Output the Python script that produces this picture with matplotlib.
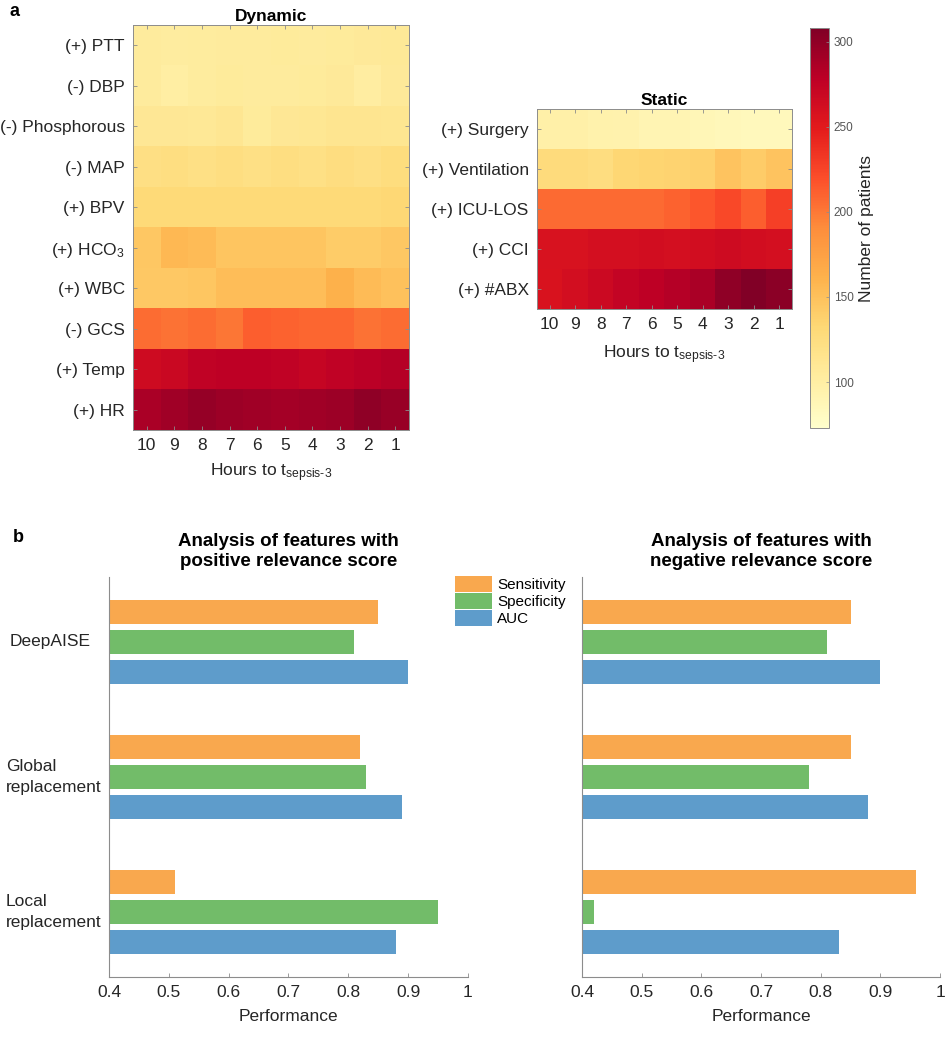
import numpy as np
import matplotlib
matplotlib.use("Agg")
import matplotlib.pyplot as plt
from matplotlib.transforms import blended_transform_factory

plt.rcParams['font.family'] = ['Liberation Sans', 'DejaVu Sans']
plt.rcParams['mathtext.fontset'] = 'custom'
plt.rcParams['mathtext.rm'] = 'Liberation Sans'
plt.rcParams['mathtext.it'] = 'Liberation Sans:italic'
plt.rcParams['mathtext.bf'] = 'Liberation Sans:bold'

# ---------------- data ----------------
hours = ['10', '9', '8', '7', '6', '5', '4', '3', '2', '1']

dyn_features = ['(+) PTT', '(-) DBP', '(-) Phosphorous', '(-) MAP', '(+) BPV',
                r'(+) HCO$_3$', '(+) WBC', '(-) GCS', '(+) Temp', '(+) HR']
dyn_ptt = [105, 103, 104, 105, 105, 106, 105, 106, 107, 108]
dyn_dbp = [105, 100, 104, 106, 105, 105, 106, 107, 102, 107]
dyn_phos = [110, 110, 109, 112, 106, 110, 111, 114, 114, 113]
dyn_map = [122, 124, 121, 124, 121, 124, 121, 125, 122, 126]
dyn_bpv = [130, 130, 130, 130, 130, 130, 130, 130, 130, 132]
dyn_hco3 = [145, 156, 154, 147, 147, 147, 147, 141, 141, 145]
dyn_wbc = [144, 144, 146, 152, 152, 152, 152, 162, 154, 150]
dyn_gcs = [206, 203, 206, 201, 212, 210, 208, 208, 203, 206]
dyn_temp = [265, 269, 275, 277, 277, 275, 272, 275, 279, 282]
dyn_hr = [287, 292, 297, 294, 292, 290, 292, 294, 300, 296]

stat_features = ['(+) Surgery', '(+) Ventilation', '(+) ICU-LOS', '(+) CCI', '(+) #ABX']
stat_surgery = [97, 97, 95, 94, 90, 90, 87, 85, 84, 84]
stat_vent = [128, 128, 125, 133, 135, 136, 138, 148, 141, 148]
stat_icu = [207, 207, 207, 207, 207, 210, 216, 223, 212, 228]
stat_cci = [258, 258, 261, 261, 263, 261, 263, 265, 263, 261]
stat_abx = [257, 262, 267, 274, 277, 282, 287, 300, 307, 302]

cmin, cmax = 73, 308
cbar_ticks = [100, 150, 200, 250, 300]

methods = ['DeepAISE', 'Global\nreplacement', 'Local\nreplacement']
metrics = ['Sensitivity', 'Specificity', 'AUC']
pos_sens = [0.85, 0.82, 0.51]
pos_spec = [0.81, 0.83, 0.95]
pos_auc = [0.90, 0.89, 0.88]
neg_sens = [0.85, 0.85, 0.96]
neg_spec = [0.81, 0.78, 0.42]
neg_auc = [0.90, 0.88, 0.83]
perf_ticks = [0.4, 0.5, 0.6, 0.7, 0.8, 0.9, 1.0]
perf_ticklabels = ['0.4', '0.5', '0.6', '0.7', '0.8', '0.9', '1']

bar_colors = ['#F9A84E', '#72BC69', '#5E9CCB']

# ---------------- figure ----------------
W, H = 948, 1050
fig = plt.figure(figsize=(W / 100, H / 100), dpi=100)


def ax_px(l, t, r, b):
    return fig.add_axes([l / W, 1 - b / H, (r - l) / W, (b - t) / H])


cmap = plt.get_cmap('YlOrRd')
txt_col = '#262626'
edge_col = '#8c8c8c'
sub_label = r'Hours to t$_{\text{sepsis-3}}$'


def heatmap(ax, data, ylabels, title, lpad):
    im = ax.imshow(np.array(data), cmap=cmap, vmin=cmin, vmax=cmax,
                   aspect='auto', interpolation='nearest')
    ax.set_xticks(range(len(hours)))
    ax.set_xticklabels(hours, fontsize=12.5, color=txt_col)
    ax.set_yticks(range(len(ylabels)))
    ax.set_yticklabels(ylabels, fontsize=12.5, color=txt_col)
    ax.tick_params(direction='in', length=3, width=0.6, color=edge_col,
                   top=True, right=True, pad=6)
    for s in ax.spines.values():
        s.set_color(edge_col)
        s.set_linewidth(0.7)
    ax.set_title(title, fontsize=12.5, fontweight='bold', pad=3)
    ax.set_xlabel(sub_label, fontsize=12.5, color=txt_col, labelpad=lpad)
    return im


ax_dyn = ax_px(133, 25, 409, 430)
im = heatmap(ax_dyn, [dyn_ptt, dyn_dbp, dyn_phos, dyn_map, dyn_bpv,
                      dyn_hco3, dyn_wbc, dyn_gcs, dyn_temp, dyn_hr],
             dyn_features, 'Dynamic', 6)

ax_st = ax_px(537, 109, 792, 309)
heatmap(ax_st, [stat_surgery, stat_vent, stat_icu, stat_cci, stat_abx],
        stat_features, 'Static', 8)

cax = ax_px(810, 28, 829, 428)
cb = fig.colorbar(im, cax=cax, ticks=cbar_ticks)
cb.ax.tick_params(labelsize=8.5, labelcolor='#555555', length=2, width=0.5,
                  color=edge_col, direction='in')
cb.outline.set_edgecolor(edge_col)
cb.outline.set_linewidth(0.7)
cb.set_label('Number of patients', fontsize=12.5, color=txt_col, labelpad=4)


# ---------------- bar charts ----------------
def barchart(ax, sens, spec, auc, title, show_labels):
    y = np.arange(1, len(methods) + 1)
    off = 0.222
    hgt = 0.18
    for vals, o, c, lab in zip([sens, spec, auc], [-off, 0, off], bar_colors, metrics):
        ax.barh(y + o, np.array(vals) - 0.4, left=0.4, height=hgt, color=c, label=lab)
    ax.set_xlim(0.4, 1.0)
    ax.set_ylim(3.48, 0.52)
    ax.set_xticks(perf_ticks)
    ax.set_xticklabels(perf_ticklabels, fontsize=12.5, color=txt_col)
    ax.set_yticks(y)
    ax.set_yticklabels([])
    ax.tick_params(axis='x', direction='in', length=3, width=0.6, color=edge_col, pad=6)
    ax.tick_params(axis='y', direction='in', length=0)
    for s in ['top', 'right']:
        ax.spines[s].set_visible(False)
    for s in ['left', 'bottom']:
        ax.spines[s].set_color(edge_col)
        ax.spines[s].set_linewidth(0.8)
    ax.set_xlabel('Performance', fontsize=12.5, color=txt_col, labelpad=6)
    ax.set_title(title, fontsize=13.5, fontweight='bold', pad=8, linespacing=1.2)
    if show_labels:
        tr = blended_transform_factory(fig.transFigure, ax.transData)
        xs = [10 / W, 6 / W, 6 / W]
        for yy, lab, xx in zip(y, methods, xs):
            ax.text(xx, yy, lab, transform=tr, ha='left', va='center',
                    fontsize=12.5, color=txt_col, linespacing=1.45)


ax_b1 = ax_px(109, 577, 468, 977)
barchart(ax_b1, pos_sens, pos_spec, pos_auc,
         'Analysis of features with\npositive relevance score', True)
ax_b2 = ax_px(582, 577, 940, 977)
barchart(ax_b2, neg_sens, neg_spec, neg_auc,
         'Analysis of features with\nnegative relevance score', False)

handles, labels = ax_b1.get_legend_handles_labels()
fig.legend(handles, labels, loc='upper left', bbox_to_anchor=(455 / W, 1 - 576 / H),
           frameon=False, fontsize=11, handlelength=2.45, handleheight=1.25,
           handletextpad=0.3, labelspacing=0.05, borderaxespad=0, borderpad=0)

# panel letters
fig.text(10 / W, 1 - 12 / H, 'a', fontsize=13, fontweight='bold', va='center')
fig.text(13 / W, 1 - 538 / H, 'b', fontsize=13, fontweight='bold', va='center')

fig.savefig('out.png', dpi=100)
